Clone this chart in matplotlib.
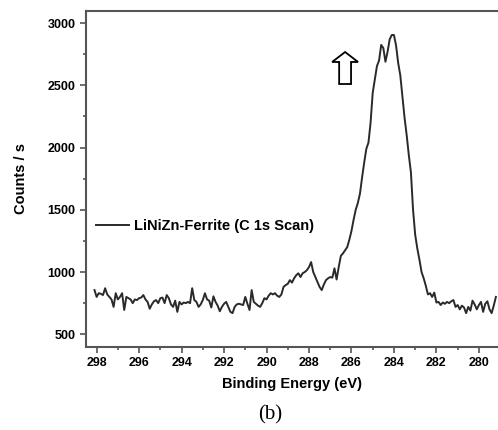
import matplotlib.pyplot as plt
import numpy as np
from matplotlib.patches import FancyArrow
from matplotlib.ticker import MultipleLocator

plt.rcParams['font.family'] = ['Liberation Sans', 'DejaVu Sans']

# binding energy, 0.1 eV steps from 298.1 down to 279.2
energy = np.round(298.1 - 0.1 * np.arange(190), 1)
counts = [
    855, 800, 830, 825, 815, 870, 820, 800, 780, 720,
    830, 780, 800, 830, 695, 800, 790, 780, 750, 780,
    775, 790, 795, 815, 780, 760, 705, 740, 765, 775,
    750, 790, 795, 750, 815, 790, 740, 720, 770, 680,
    760, 740, 755, 750, 760, 750, 870, 775, 760, 720,
    740, 775, 830, 780, 770, 715, 805, 760, 730, 685,
    720, 745, 760, 720, 680, 670, 720, 740, 745, 740,
    735, 800, 745, 695, 855, 760, 745, 730, 720, 750,
    790, 780, 810, 830, 820, 830, 810, 800, 820, 880,
    895, 905, 935, 915, 950, 975, 990, 960, 990, 1000,
    1015, 1040, 1080, 1000, 960, 920, 880, 855, 900, 935,
    950, 960, 955, 1030, 940, 1040, 1130, 1150, 1175, 1200,
    1260, 1330, 1420, 1500, 1555, 1630, 1760, 1880, 1990, 2040,
    2200, 2440, 2550, 2655, 2700, 2825, 2800, 2690, 2770, 2870,
    2905, 2905, 2820, 2680, 2580, 2410, 2240, 2100, 1940, 1800,
    1500, 1300, 1190, 1100, 1000, 950, 890, 820, 830, 800,
    835, 755, 760, 735, 755, 745, 760, 750, 765, 775,
    720, 735, 700, 730, 715, 670, 720, 690, 770, 740,
    700, 735, 760, 680, 745, 765, 700, 670, 730, 800,
]
series_label = "LiNiZn-Ferrite (C 1s Scan)"

# hollow arrow marking the peak
arrow_x = 286.3
arrow_base = 2511
arrow_tip = 2768

fig = plt.figure(figsize=(4.98, 4.30), dpi=100)
ax = fig.add_axes([0.1727, 0.1937, 0.8273, 0.7814])

ax.plot(energy, counts, color='#2a2a2a', lw=1.4, label=series_label)

ax.set_xlim(298.5, 279.1)
ax.set_ylim(400, 3100)
ax.xaxis.set_major_locator(MultipleLocator(2))
ax.xaxis.set_minor_locator(MultipleLocator(1))
ax.yaxis.set_major_locator(MultipleLocator(500))
ax.yaxis.set_minor_locator(MultipleLocator(250))

spine_col = '#555555'
for side in ['left', 'bottom', 'top']:
    ax.spines[side].set_color(spine_col)
    ax.spines[side].set_linewidth(1.5)
ax.spines['right'].set_visible(False)

ax.tick_params(which='both', direction='out', color=spine_col, width=1.2,
               top=False, right=False)
ax.tick_params(which='major', length=4, labelsize=9, pad=3.5)
ax.tick_params(which='minor', length=2.5)
for lab in ax.get_xticklabels() + ax.get_yticklabels():
    lab.set_fontweight('bold')

ax.set_xlabel("Binding Energy (eV)", fontsize=10.5, fontweight='bold', labelpad=6)
ax.set_ylabel("Counts / s", fontsize=10.5, fontweight='bold', labelpad=14)

ax.legend(loc='center left', bbox_to_anchor=(0.024, 0.359), frameon=False,
          borderpad=0, borderaxespad=0, handlelength=2.3, handletextpad=0.3,
          prop={'size': 10.5, 'weight': 'bold'})

arrow = FancyArrow(arrow_x, arrow_base, 0, arrow_tip - arrow_base,
                   width=0.56, head_width=1.22, head_length=80,
                   length_includes_head=True, fc='white', ec='black', lw=1.3)
ax.add_patch(arrow)

fig.text(0.542, 0.035, "(b)", fontsize=15, family='Liberation Serif',
         ha='center', va='center')

fig.savefig('out.png', dpi=100)
